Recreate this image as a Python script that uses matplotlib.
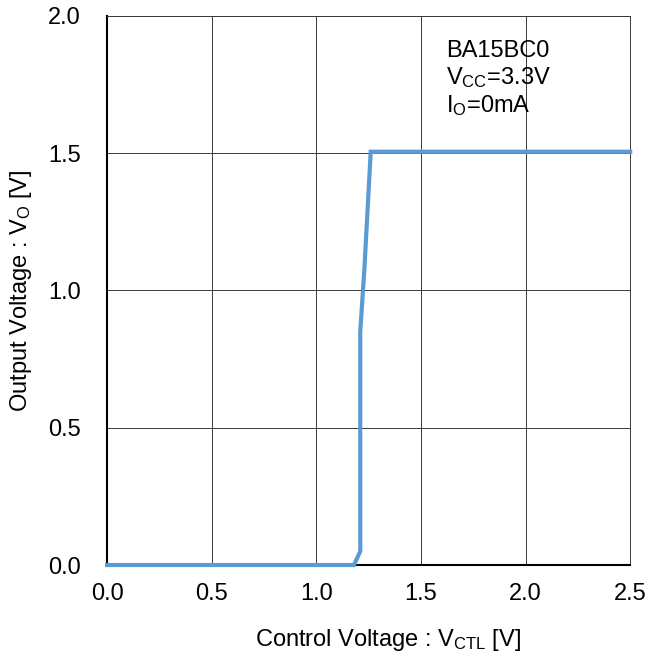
import numpy as np
import matplotlib.pyplot as plt

plt.rcParams['font.family'] = ['Liberation Sans', 'DejaVu Sans']
plt.rcParams['mathtext.fontset'] = 'custom'
plt.rcParams['mathtext.rm'] = 'Liberation Sans'
plt.rcParams['mathtext.default'] = 'regular'

# control voltage vs output voltage
vctl = [0.0, 1.18, 1.21, 1.21, 1.23, 1.26, 2.5]
vout = [0.0, 0.0, 0.05, 0.85, 1.08, 1.505, 1.505]

xticks = [0.0, 0.5, 1.0, 1.5, 2.0, 2.5]
yticks = [0.0, 0.5, 1.0, 1.5, 2.0]

fig = plt.figure(figsize=(6.45, 6.57), dpi=100)
ax = fig.add_axes([0.166, 0.140, 0.811, 0.836])

ax.plot(vctl, vout, color='#5B9BD5', lw=3, solid_joinstyle='miter', clip_on=False, zorder=3)

ax.set_xlim(0, 2.5)
ax.set_ylim(0, 2.0)
ax.set_xticks(xticks)
ax.set_yticks(yticks)
ax.set_xticklabels(['%.1f' % t for t in xticks], fontsize=17)
ax.set_yticklabels(['%.1f' % t for t in yticks], fontsize=17)
ax.tick_params(axis='x', length=0, pad=13)
ax.tick_params(axis='y', length=0, pad=19)
ax.grid(True, color='#3a3a3a', lw=0.7)
ax.set_axisbelow(True)

for s in ['top', 'right']:
    ax.spines[s].set_color('#3a3a3a')
    ax.spines[s].set_linewidth(0.7)
for s in ['left', 'bottom']:
    ax.spines[s].set_color('black')
    ax.spines[s].set_linewidth(1.5)

ax.set_xlabel('Control Voltage : V$_{CTL}$ [V]', fontsize=17)
ax.xaxis.set_label_coords(0.537, -0.113)
ax.set_ylabel('Output Voltage : V$_{O}$ [V]', fontsize=17)
ax.yaxis.set_label_coords(-0.139, 0.5)

ax.text(0.648, 0.955, 'BA15BC0\nV$_{CC}$=3.3V\nI$_{O}$=0mA', transform=ax.transAxes,
        fontsize=17, va='top', ha='left', linespacing=1.15)

fig.savefig('out.png', dpi=100, facecolor='white')
